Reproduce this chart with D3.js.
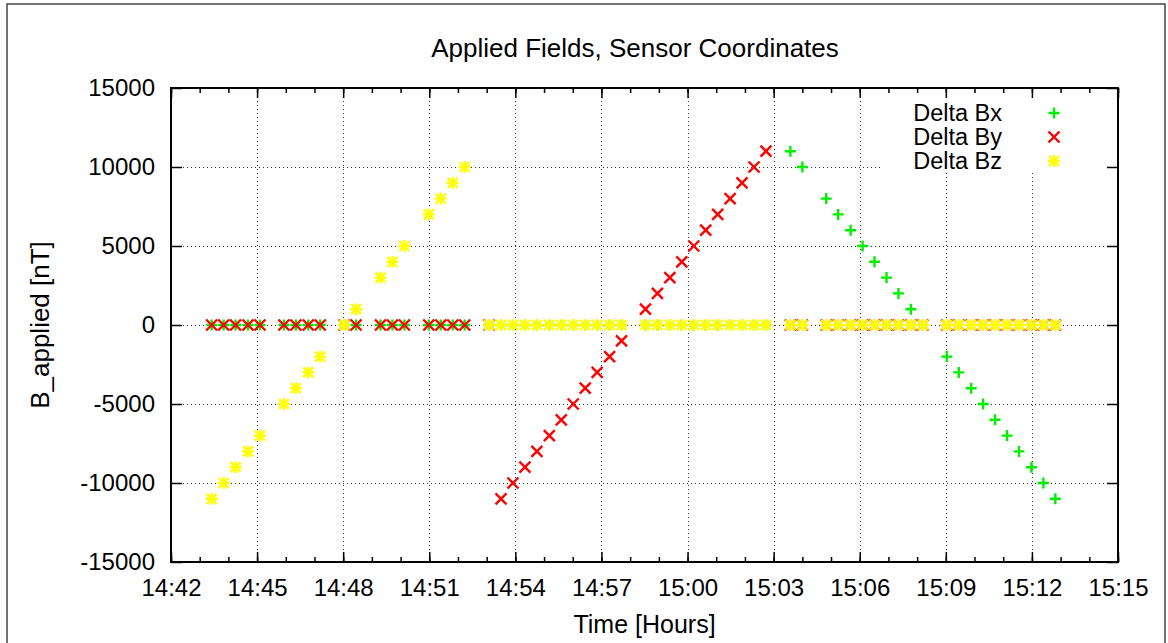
<!DOCTYPE html>
<html>
<head>
<meta charset="utf-8">
<script src="https://cdn.jsdelivr.net/npm/d3@7"></script>
<style>
  body { margin: 0; background: #fff; }
  svg { display: block; font-family: "Liberation Sans", Arial, sans-serif; }
  .axis text { font-size: 24px; fill: #000; }
  .axis .domain { display: none; }
</style>
</head>
<body>
<svg id="chart"></svg>
<script>
// sample times (HH:MM:SS) and the three applied field components, nT
const times = [
  "14:43:25", "14:43:50", "14:44:15", "14:44:41", "14:45:06", "14:45:56",
  "14:46:21", "14:46:47", "14:47:12", "14:48:02", "14:48:27", "14:49:18",
  "14:49:43", "14:50:08", "14:50:59", "14:51:24", "14:51:49", "14:52:14",
  "14:53:05", "14:53:30", "14:53:55", "14:54:20", "14:54:45", "14:55:11",
  "14:55:36", "14:56:01", "14:56:26", "14:56:51", "14:57:17", "14:57:42",
  "14:58:32", "14:58:57", "14:59:23", "14:59:48", "15:00:13", "15:00:38",
  "15:01:03", "15:01:29", "15:01:54", "15:02:19", "15:02:44", "15:03:35",
  "15:04:00", "15:04:50", "15:05:15", "15:05:41", "15:06:06", "15:06:31",
  "15:06:56", "15:07:21", "15:07:47", "15:08:12", "15:09:02", "15:09:27",
  "15:09:53", "15:10:18", "15:10:43", "15:11:08", "15:11:33", "15:11:59",
  "15:12:24", "15:12:49",
];
const deltaBx = [
  0, 0, 0, 0, 0, 0, 0, 0, 0, 0, 0, 0, 0, 0, 0, 0, 0, 0, 0, 0, 0, 0, 0, 0,
  0, 0, 0, 0, 0, 0, 0, 0, 0, 0, 0, 0, 0, 0, 0, 0, 0,
  11000, 10000, 8000, 7000, 6000, 5000, 4000, 3000, 2000, 1000, 0,
  -2000, -3000, -4000, -5000, -6000, -7000, -8000, -9000, -10000, -11000,
];
const deltaBy = [
  0, 0, 0, 0, 0, 0, 0, 0, 0, 0, 0, 0, 0, 0, 0, 0, 0, 0, 0,
  -11000, -10000, -9000, -8000, -7000, -6000, -5000, -4000, -3000, -2000, -1000,
  1000, 2000, 3000, 4000, 5000, 6000, 7000, 8000, 9000, 10000, 11000,
  0, 0, 0, 0, 0, 0, 0, 0, 0, 0, 0, 0, 0, 0, 0, 0, 0, 0, 0, 0, 0,
];
const deltaBz = [
  -11000, -10000, -9000, -8000, -7000, -5000, -4000, -3000, -2000,
  0, 1000, 3000, 4000, 5000, 7000, 8000, 9000, 10000,
  0, 0, 0, 0, 0, 0, 0, 0, 0, 0, 0, 0, 0, 0, 0, 0, 0, 0, 0, 0, 0, 0, 0, 0,
  0, 0, 0, 0, 0, 0, 0, 0, 0, 0, 0, 0, 0, 0, 0, 0, 0, 0, 0, 0, 0, 0,
];
const seriesNames = ["Delta Bx", "Delta By", "Delta Bz"];
const yTickValues = [-15000, -10000, -5000, 0, 5000, 10000, 15000];
const xDomain = ["14:42:00", "15:15:00"];

const width = 1168;
const height = 643;
const margin = { top: 88, right: 50, bottom: 81, left: 171 };

const parseTime = d3.timeParse("%H:%M:%S");
const colors = ["#00ee00", "#ff0000", "#ffff00"];
const shapes = ["plus", "cross", "star"];

const data = times.map((t, i) => ({
  date: parseTime(t),
  values: [deltaBx[i], deltaBy[i], deltaBz[i]],
}));

const x = d3
  .scaleTime()
  .domain(xDomain.map(parseTime))
  .range([margin.left, width - margin.right]);
const y = d3
  .scaleLinear()
  .domain([-15000, 15000])
  .range([height - margin.bottom, margin.top]);

const svg = d3.select("#chart").attr("width", width).attr("height", height);

// outer frame
svg
  .append("rect")
  .attr("x", 7)
  .attr("y", 4)
  .attr("width", 1158)
  .attr("height", 660)
  .attr("fill", "none")
  .attr("stroke", "#444")
  .attr("stroke-width", 1.5);

const majorTicks = d3.timeMinute.every(3).range(x.domain()[0], new Date(+x.domain()[1] + 1));
const minorTicks = d3.timeMinute.every(1).range(x.domain()[0], new Date(+x.domain()[1] + 1));

// grid
const gGrid = svg
  .append("g")
  .attr("stroke", "#333")
  .attr("stroke-width", 1)
  .attr("stroke-dasharray", "1,3");
gGrid
  .selectAll(".gx")
  .data(majorTicks.slice(1, -1))
  .join("line")
  .attr("x1", (d) => Math.round(x(d)) + 0.5)
  .attr("x2", (d) => Math.round(x(d)) + 0.5)
  .attr("y1", y.range()[0])
  .attr("y2", y.range()[1]);
gGrid
  .selectAll(".gy")
  .data(yTickValues.slice(1, -1))
  .join("line")
  .attr("x1", margin.left)
  .attr("x2", width - margin.right)
  .attr("y1", (d) => Math.round(y(d)) + 0.5)
  .attr("y2", (d) => Math.round(y(d)) + 0.5);

// key area blanks the grid behind it
svg
  .append("rect")
  .attr("x", 883)
  .attr("y", margin.top)
  .attr("width", width - margin.right - 883)
  .attr("height", 85)
  .attr("fill", "#fff");

// axes, ticks pointing inward
const fmt = d3.timeFormat("%H:%M");
svg
  .append("g")
  .attr("class", "axis")
  .attr("transform", `translate(0,${height - margin.bottom})`)
  .call(d3.axisBottom(x).tickValues(majorTicks).tickFormat(fmt).tickSize(-10).tickPadding(17))
  .call((g) => g.selectAll(".tick line").attr("stroke-width", 1.5));
svg
  .append("g")
  .attr("transform", `translate(0,${height - margin.bottom})`)
  .call(d3.axisBottom(x).tickValues(minorTicks).tickFormat("").tickSize(-5))
  .call((g) => g.select(".domain").remove())
  .call((g) => g.selectAll(".tick line").attr("stroke-width", 1.5));
svg
  .append("g")
  .attr("class", "axis")
  .attr("transform", `translate(0,${margin.top})`)
  .call(d3.axisTop(x).tickValues(majorTicks).tickFormat("").tickSize(-10))
  .call((g) => g.selectAll(".tick line").attr("stroke-width", 1.5));
svg
  .append("g")
  .attr("transform", `translate(0,${margin.top})`)
  .call(d3.axisTop(x).tickValues(minorTicks).tickFormat("").tickSize(-5))
  .call((g) => g.select(".domain").remove())
  .call((g) => g.selectAll(".tick line").attr("stroke-width", 1.5));
svg
  .append("g")
  .attr("class", "axis")
  .attr("transform", `translate(${margin.left},0)`)
  .call(d3.axisLeft(y).tickValues(yTickValues).tickFormat((d) => String(d)).tickSize(-11).tickPadding(16))
  .call((g) => g.selectAll(".tick line").attr("stroke-width", 1.5));
svg
  .append("g")
  .attr("class", "axis")
  .attr("transform", `translate(${width - margin.right},0)`)
  .call(d3.axisRight(y).tickValues(yTickValues).tickFormat("").tickSize(-11))
  .call((g) => g.selectAll(".tick line").attr("stroke-width", 1.5));

// plot border
svg
  .append("rect")
  .attr("x", margin.left)
  .attr("y", margin.top)
  .attr("width", width - margin.right - margin.left)
  .attr("height", height - margin.bottom - margin.top)
  .attr("fill", "none")
  .attr("stroke", "#000")
  .attr("stroke-width", 2);

function symbolPath(shape) {
  const p = "M-6,0H6M0,-6V6";
  const c = "M-5,-5L5,5M-5,5L5,-5";
  if (shape === "plus") return "M-5.5,0H5.5M0,-5.5V5.5";
  if (shape === "cross") return "M-5.5,-5.5L5.5,5.5M-5.5,5.5L5.5,-5.5";
  return p + c;
}

// points: Bx, then By, then Bz on top
const gPoints = svg.append("g");
seriesNames.forEach((name, si) => {
  gPoints
    .append("g")
    .attr("stroke", colors[si])
    .attr("stroke-width", 2.4)
    .attr("fill", "none")
    .selectAll("path")
    .data(data)
    .join("path")
    .attr("d", symbolPath(shapes[si]))
    .attr("transform", (d) => `translate(${x(d.date)},${y(d.values[si])})`);
});

// key
const gKey = svg.append("g").attr("transform", "translate(1002,113)");
const keyRow = gKey
  .selectAll("g")
  .data(seriesNames)
  .join("g")
  .attr("transform", (d, i) => `translate(0,${i * 24})`);
keyRow
  .append("text")
  .attr("text-anchor", "end")
  .attr("dy", "0.35em")
  .attr("font-size", 23.5)
  .text((d) => d);
keyRow
  .append("path")
  .attr("transform", "translate(52,0)")
  .attr("stroke", (d, i) => colors[i])
  .attr("stroke-width", 2.4)
  .attr("fill", "none")
  .attr("d", (d, i) => symbolPath(shapes[i]));

// titles
svg
  .append("text")
  .attr("x", 635)
  .attr("y", 57)
  .attr("text-anchor", "middle")
  .attr("font-size", 26)
  .text("Applied Fields, Sensor Coordinates");
svg
  .append("text")
  .attr("x", (margin.left + width - margin.right) / 2)
  .attr("y", 633)
  .attr("text-anchor", "middle")
  .attr("font-size", 25)
  .text("Time [Hours]");
svg
  .append("text")
  .attr("transform", `translate(49,${(margin.top + height - margin.bottom) / 2})rotate(-90)`)
  .attr("text-anchor", "middle")
  .attr("font-size", 26)
  .text("B_applied [nT]");
</script>
</body>
</html>
